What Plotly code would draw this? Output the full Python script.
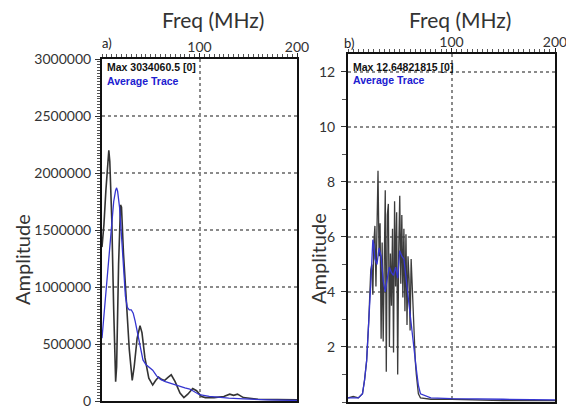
import plotly.graph_objects as go

W, H = 566, 409

# ---- panel a) data (Freq MHz, Amplitude) ----
freq_a_max = [0, 2, 4, 6, 7, 8, 10, 12, 14, 15,
              17, 19, 20, 22, 25, 28, 31, 33, 36, 39,
              41, 44, 48, 52, 55, 58, 61, 64, 68, 71,
              75, 80, 84, 88, 93, 97, 102, 106, 115, 125,
              131, 135, 139, 145, 160, 180, 200]
max_a = [1.35e6, 1.55e6, 1.85e6, 2.15e6, 2.2e6, 2.1e6, 1.6e6, 0.8e6, 0.17e6, 0.3e6,
         1.2e6, 1.72e6, 1.7e6, 1.3e6, 0.9e6, 0.45e6, 0.18e6, 0.3e6, 0.55e6, 0.66e6,
         0.6e6, 0.38e6, 0.2e6, 0.14e6, 0.18e6, 0.21e6, 0.19e6, 0.18e6, 0.21e6, 0.23e6,
         0.17e6, 0.07e6, 0.03e6, 0.06e6, 0.11e6, 0.09e6, 0.04e6, 0.03e6, 0.03e6, 0.04e6,
         0.06e6, 0.05e6, 0.06e6, 0.03e6, 0.015e6, 0.01e6, 0.01e6]

freq_a_avg = [0, 3, 6, 9, 12, 14, 15, 16, 18, 20,
              22, 24, 26, 28, 30, 32, 34, 36, 38, 40,
              42, 45, 48, 52, 56, 60, 65, 70, 75, 80,
              85, 90, 95, 100, 110, 120, 130, 140, 150, 170,
              200]
avg_a = [0.55e6, 0.85e6, 1.2e6, 1.5e6, 1.75e6, 1.85e6, 1.87e6, 1.84e6, 1.7e6, 1.45e6,
         1.15e6, 0.92e6, 0.82e6, 0.8e6, 0.8e6, 0.77e6, 0.7e6, 0.62e6, 0.52e6, 0.43e6,
         0.36e6, 0.32e6, 0.3e6, 0.27e6, 0.22e6, 0.19e6, 0.17e6, 0.155e6, 0.14e6, 0.125e6,
         0.115e6, 0.105e6, 0.08e6, 0.055e6, 0.04e6, 0.03e6, 0.025e6, 0.02e6, 0.015e6, 0.01e6,
         0.005e6]

# ---- panel b) data ----
freq_b_max = [0, 5, 10, 14, 16, 18, 20, 21, 22, 23,
              24, 25, 26, 27, 28, 29, 30, 31, 32, 33,
              34, 35, 36, 37, 38, 39, 40, 41, 42, 43,
              44, 45, 46, 47, 48, 49, 50, 51, 52, 53,
              54, 55, 56, 57, 58, 59, 60, 61, 62, 63,
              64, 65, 66, 67, 68, 70, 75, 80, 100, 120,
              150, 200]
max_b = [0.15, 0.2, 0.15, 0.3, 0.8, 1.5, 2.9, 3.8, 4.8, 5.0,
         3.9, 5.8, 6.4, 4.2, 7.5, 8.4, 5.3, 6.5, 2.3, 5.8,
         2.2, 6.0, 7.7, 1.1, 6.8, 7.2, 2.0, 5.4, 3.5, 6.3,
         1.8, 7.3, 4.2, 6.9, 1.0, 5.5, 7.5, 4.3, 6.8, 3.8,
         6.3, 3.3, 6.1, 2.8, 5.3, 4.5, 2.6, 5.2, 4.2, 3.0,
         2.0, 1.5, 1.0, 0.6, 0.3, 0.15, 0.12, 0.1, 0.1, 0.08,
         0.05, 0.05]

freq_b_avg = [0, 10, 14, 16, 18, 20, 22, 24, 25, 26,
              28, 30, 32, 34, 36, 38, 40, 42, 44, 46,
              48, 50, 52, 54, 56, 58, 60, 62, 64, 66,
              68, 70, 80, 100, 150, 200]
avg_b = [0.15, 0.15, 0.3, 0.8, 1.5, 2.8, 4.3, 5.9, 5.7, 5.2,
         5.0, 5.6, 5.3, 4.4, 4.0, 4.5, 4.9, 4.7, 4.6, 4.9,
         4.5, 5.5, 5.3, 5.2, 4.5, 3.9, 3.3, 2.5, 1.8, 1.2,
         0.6, 0.3, 0.15, 0.12, 0.1, 0.08]

x_ticks = [100, 200]
y_ticks_a = [0, 500000, 1000000, 1500000, 2000000, 2500000, 3000000]
y_ticks_b = [2, 4, 6, 8, 10, 12]

max_label_a = "Max 3034060.5 [0]"
max_label_b = "Max 12.64821815 [0]"
avg_label = "Average Trace"

BLACK = "#333333"
BLUE = "#3535d0"
GRID = "#8a8a8a"
FONT = "Lato"


def px(x):
    return x / W


def py(y):
    return 1 - y / H


fig = go.Figure()
fig.add_trace(go.Scatter(x=freq_a_max, y=max_a, mode="lines", xaxis="x", yaxis="y",
                         line=dict(color=BLACK, width=1.6), showlegend=False))
fig.add_trace(go.Scatter(x=freq_a_avg, y=avg_a, mode="lines", xaxis="x", yaxis="y",
                         line=dict(color=BLUE, width=1.3), showlegend=False))
fig.add_trace(go.Scatter(x=freq_b_max, y=max_b, mode="lines", xaxis="x2", yaxis="y2",
                         line=dict(color="#3c3c3c", width=1.3), showlegend=False))
fig.add_trace(go.Scatter(x=freq_b_avg, y=avg_b, mode="lines", xaxis="x2", yaxis="y2",
                         line=dict(color=BLUE, width=1.3), showlegend=False))

common_x = dict(range=[0, 200], side="top", tickvals=x_ticks, ticktext=[str(v) for v in x_ticks],
                ticks="outside", ticklen=4, tickcolor="#222", showline=True, linecolor="#111",
                linewidth=2, mirror=True, showgrid=True, gridcolor=GRID, griddash="dot",
                gridwidth=1.5, zeroline=False, automargin=False, ticklabelstandoff=-5,
                ticklabeloverflow="allow",
                tickfont=dict(family=FONT, size=14, color="#333"),
                minor=dict(dtick=5, ticks="outside", ticklen=3, tickcolor="#555", showgrid=False))

fig.update_layout(
    width=W, height=H, margin=dict(l=0, r=0, t=0, b=0),
    paper_bgcolor="white", plot_bgcolor="white",
    xaxis=dict(domain=[px(102), px(297)], anchor="y", **common_x),
    yaxis=dict(domain=[py(401), py(59)], anchor="x", range=[0, 3000000],
               tickvals=y_ticks_a, ticktext=[str(v) for v in y_ticks_a],
               ticks="outside", ticklen=5, tickcolor="#333", showline=True, linecolor="#111",
               linewidth=2, mirror=True, showgrid=True, gridcolor=GRID, griddash="dot",
               gridwidth=1.5, zeroline=False, ticklabelstandoff=1, automargin=False,
               ticklabeloverflow="allow",
               tickfont=dict(family=FONT, size=14, color="#333"),
               minor=dict(dtick=25000, ticks="outside", ticklen=3, tickcolor="#555", showgrid=False)),
    xaxis2=dict(domain=[px(348), px(555)], anchor="y2", **common_x),
    yaxis2=dict(domain=[py(402), py(54)], anchor="x2", range=[0, 12.648],
                tickvals=y_ticks_b, ticktext=[str(v) for v in y_ticks_b],
                ticks="outside", ticklen=5, tickcolor="#333", showline=True, linecolor="#111",
                linewidth=2, mirror=True, showgrid=True, gridcolor=GRID, griddash="dot",
                gridwidth=1.5, zeroline=False, ticklabelstandoff=3, automargin=False,
                ticklabeloverflow="allow",
                tickfont=dict(family=FONT, size=14, color="#333"),
                minor=dict(dtick=1, ticks="outside", ticklen=4, tickcolor="#555", showgrid=False)),
)

ann = []
# axis titles
ann.append(dict(x=px(213), y=py(19), text="Freq (MHz)", font=dict(family=FONT, size=21, color="#333")))
ann.append(dict(x=px(460), y=py(19), text="Freq (MHz)", font=dict(family=FONT, size=21, color="#333")))
ann.append(dict(x=px(22), y=py(260), text="Amplitude", textangle=-90,
                font=dict(family=FONT, size=20, color="#333")))
ann.append(dict(x=px(318), y=py(259), text="Amplitude", textangle=-90,
                font=dict(family=FONT, size=20, color="#333")))
# panel labels
ann.append(dict(x=px(107), y=py(43), text="a)", font=dict(family=FONT, size=13, color="#222")))
ann.append(dict(x=px(349), y=py(43), text="b)", font=dict(family=FONT, size=13, color="#222")))
# in-plot legends
ann.append(dict(x=px(105), y=py(67), text="<b>" + max_label_a + "</b>", xanchor="left",
                font=dict(family="Liberation Sans", size=10.5, color="#111")))
ann.append(dict(x=px(105), y=py(81), text="<b>" + avg_label + "</b>", xanchor="left",
                font=dict(family="Liberation Sans", size=10.5, color="#2020d0")))
ann.append(dict(x=px(351), y=py(67), text="<b>" + max_label_b + "</b>", xanchor="left",
                font=dict(family="Liberation Sans", size=10.5, color="#111")))
ann.append(dict(x=px(351), y=py(80), text="<b>" + avg_label + "</b>", xanchor="left",
                font=dict(family="Liberation Sans", size=10.5, color="#2020d0")))
for a in ann:
    a.setdefault("xanchor", "center")
    a.update(xref="paper", yref="paper", yanchor="middle", showarrow=False)
fig.update_layout(annotations=ann)

fig.write_html("out.html", config={"displayModeBar": False},
               post_script="document.body.style.margin='0';document.body.style.overflow='hidden';")
